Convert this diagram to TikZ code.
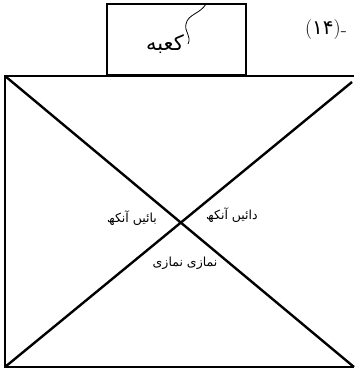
\documentclass[tikz,border=0pt]{standalone}
\usepackage{fontspec}
\newfontfamily\urdufont[Script=Arabic]{DejaVu Sans}
\TeXXeTstate=1
\usetikzlibrary{arrows.meta}
\tikzset{urdu/.style={font=\urdufont\fontsize{12.5}{14}\selectfont,inner sep=1pt}}

\begin{document}
\begin{tikzpicture}[x=1pt,y=-1pt]
\useasboundingbox (0,0) rectangle (354,370);
\coordinate (tl) at (5,76);
\coordinate (tr) at (354,76);
\coordinate (trd) at (352,82);
\coordinate (bl) at (5,367);
\coordinate (br) at (354,367);
%% kaaba box
\draw[line width=1.4pt](107,4)rectangle(246,75);
\draw[line width=2.4pt](107,75)--(246,75);
\draw[line width=0.8pt](206,4)..controls(200,14)and(188,14)..(186,24)
..controls(184,32)and(192,36)..(188,44);
\node[urdu,font=\urdufont\fontsize{21}{23}\selectfont](kaaba)at(165,44){\beginR کعبه\endR};
\node[font=\fontsize{20}{22}\selectfont,inner sep=0pt](fig)at(326,30){({\urdufont ۱۴})\raisebox{-2pt}{-}};
%% big square
\draw[line width=1.6pt](tr)--(tl)--(bl)--(br);
\draw[line width=2.4pt](tl)--(br)
(bl)--(trd);
%%
\node[urdu](left)at(132,218){\beginR بائیں آنکھ\endR};
\node[urdu](right)at(232,215){\beginR دائیں آنکھ\endR};
\node[urdu](namazi)at(185,263){\beginR نمازی نمازی\endR};
\end{tikzpicture}
\end{document}
